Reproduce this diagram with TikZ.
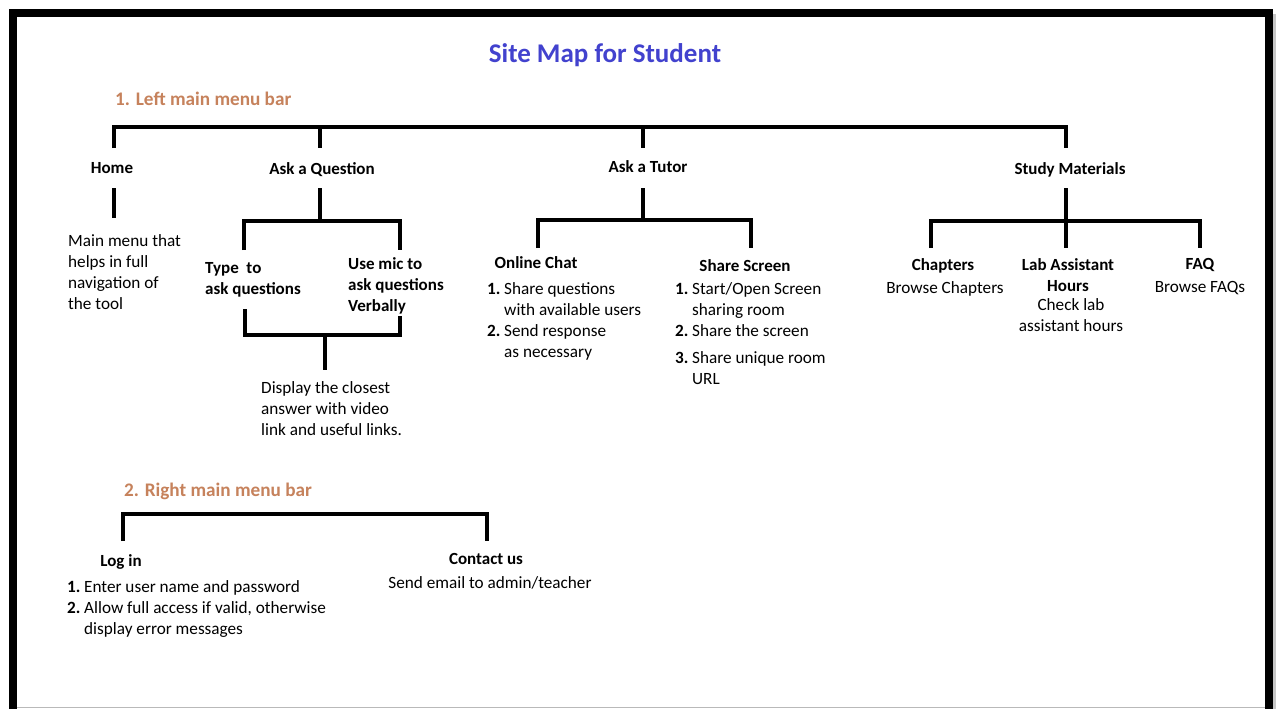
\documentclass[tikz,border=0pt]{standalone}
\usepackage{fontspec}
\setmainfont{Carlito}
\definecolor{titleblue}{RGB}{66,66,206}
\definecolor{secbrown}{RGB}{198,130,92}
\newcommand{\itemno}[1]{\makebox[17pt][l]{\bfseries #1}}
\newcommand{\cont}{\hspace*{17pt}}
\begin{document}
\begin{tikzpicture}[x=1pt,y=-1pt,
  conn/.style={line width=4pt,line join=miter},
  body/.style={font=\fontsize{17.2}{21}\selectfont,inner sep=0pt,align=left},
  bodyc/.style={font=\fontsize{17.2}{21}\selectfont,inner sep=0pt,align=center},
  head/.style={font=\fontsize{17}{21}\selectfont\bfseries,inner sep=0pt,align=center},
  headl/.style={font=\fontsize{17}{21}\selectfont\bfseries,inner sep=0pt,align=left},
  section/.style={font=\fontsize{19.2}{23}\selectfont\bfseries,text=secbrown,inner sep=0pt},
  titletext/.style={font=\fontsize{27}{32}\selectfont\bfseries,text=titleblue,inner sep=0pt}]
\useasboundingbox (0,0) rectangle (1277,709);
\fill[white] (0,0) rectangle (1277,709);
\clip (0,0) rectangle (1277,709);

% page frame with its soft shadow
\fill[gray!45] (1273,14) rectangle (1276,709);
\draw[gray!55,line width=1.2pt] (17,707.5) -- (1265,707.5);
\draw[line width=8pt] (13,720) -- (13,13) -- (1269,13) -- (1269,720);

% headings (multi-line nodes are placed by the baseline of their last line)
\node[titletext,anchor=base] (title) at (605,63) {Site Map for Student};
\node[section,anchor=base west] (sec1) at (115,105) {1. Left main menu bar};
\node[section,anchor=base west] (sec2) at (124,496) {2. Right main menu bar};

% left menu: top level
\node[head,anchor=base] (home) at (112,173) {Home};
\node[head,anchor=base] (askq) at (322,174) {Ask a Question};
\node[head,anchor=base] (tutor) at (648,172) {Ask a Tutor};
\node[head,anchor=base] (study) at (1070,174) {Study Materials};

\coordinate (busHome) at (114,126.5);
\coordinate (busAskq) at (320,126.5);
\coordinate (busTutor) at (643,126.5);
\coordinate (busStudy) at (1066,126.5);
\coordinate (dropHome) at (114,148);
\coordinate (dropAskq) at (320,148);
\coordinate (dropTutor) at (643,148);
\coordinate (dropStudy) at (1066,148);
\draw[conn] (dropHome) -- (busHome) -- (busStudy) -- (dropStudy);
\draw[conn] (busAskq) -- (dropAskq);
\draw[conn] (busTutor) -- (dropTutor);

% Home
\node[body,anchor=base west] (homeinfo) at (68,309)
  {Main menu that\\helps in full\\navigation of\\the tool};
\coordinate (homeA) at (114,188);
\coordinate (homeB) at (114,218);
\draw[conn] (homeA) -- (homeB);

% Ask a Question
\node[headl,anchor=base west] (typeq) at (205,294) {Type\ \ to\\ask questions};
\node[headl,anchor=base west] (micq) at (348,311) {Use mic to\\ask questions\\Verbally};
\node[body,anchor=base west] (answer) at (261,435)
  {Display the closest\\answer with video\\link and useful links.};
\coordinate (askqA) at (320,188);
\coordinate (askqB) at (320,221);
\coordinate (askqL) at (244,221);
\coordinate (askqR) at (400,221);
\coordinate (askqLd) at (244,250);
\coordinate (askqRd) at (400,250);
\draw[conn] (askqA) -- (askqB);
\draw[conn] (askqLd) -- (askqL) -- (askqR) -- (askqRd);
\coordinate (mergeLu) at (245,309);
\coordinate (mergeRu) at (400,316);
\coordinate (mergeL) at (245,335);
\coordinate (mergeR) at (400,335);
\coordinate (mergeC) at (325,335);
\coordinate (mergeD) at (325,370);
\draw[conn] (mergeLu) -- (mergeL) -- (mergeR) -- (mergeRu);
\draw[conn] (mergeC) -- (mergeD);

% Ask a Tutor
\node[head,anchor=base] (chat) at (536,268) {Online Chat};
\node[head,anchor=base] (share) at (745,271) {Share Screen};
\node[body,anchor=base west] (chatlist) at (487,357)
  {\itemno{1.}Share questions\\\cont with available users\\
   \itemno{2.}Send response\\\cont as necessary};
\node[body,anchor=base west] (sharelist) at (675,384)
  {\itemno{1.}Start/Open Screen\\\cont sharing room\\
   \itemno{2.}Share the screen\\[6pt]
   \itemno{3.}Share unique room\\\cont URL};
\coordinate (tutorA) at (643,188);
\coordinate (tutorB) at (643,220);
\coordinate (tutorL) at (538,220);
\coordinate (tutorR) at (751,220);
\coordinate (tutorLd) at (538,248);
\coordinate (tutorRd) at (751,248);
\draw[conn] (tutorA) -- (tutorB);
\draw[conn] (tutorLd) -- (tutorL) -- (tutorR) -- (tutorRd);

% Study Materials
\node[head,anchor=base] (chapters) at (943,270) {Chapters};
\node[bodyc,anchor=base] (chapinfo) at (945,293) {Browse Chapters};
\node[head,anchor=base] (lab) at (1068,291) {Lab Assistant\\Hours};
\node[bodyc,anchor=base] (labinfo) at (1071,331) {Check lab\\assistant hours};
\node[head,anchor=base] (faq) at (1200,269) {FAQ};
\node[bodyc,anchor=base] (faqinfo) at (1200,292) {Browse FAQs};
\coordinate (studyA) at (1066,188);
\coordinate (studyD) at (1066,248);
\coordinate (studyL) at (931,221);
\coordinate (studyR) at (1200,221);
\coordinate (studyLd) at (931,248);
\coordinate (studyRd) at (1200,248);
\draw[conn] (studyA) -- (studyD);
\draw[conn] (studyLd) -- (studyL) -- (studyR) -- (studyRd);

% right menu
\node[head,anchor=base] (login) at (121,566) {Log in};
\node[body,anchor=base west] (loginlist) at (67,634)
  {\itemno{1.}Enter user name and password\\
   \itemno{2.}Allow full access if valid, otherwise\\\cont display error messages};
\node[head,anchor=base] (contact) at (486,564) {Contact us};
\node[bodyc,anchor=base] (contactinfo) at (490,588) {Send email to admin/teacher};
\coordinate (rbarL) at (122.5,514);
\coordinate (rbarR) at (486.5,514);
\coordinate (rbarLd) at (122.5,541);
\coordinate (rbarRd) at (486.5,541);
\draw[conn] (rbarLd) -- (rbarL) -- (rbarR) -- (rbarRd);
\end{tikzpicture}
\end{document}
